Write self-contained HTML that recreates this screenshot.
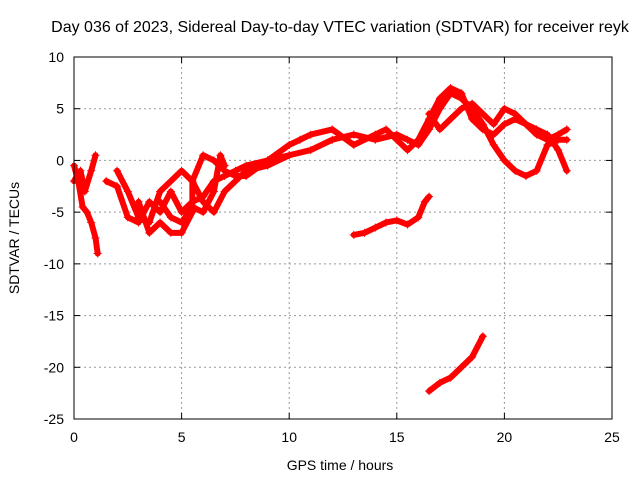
<!DOCTYPE html>
<html><head><meta charset="utf-8"><style>
body{margin:0;background:#fff;}
svg{display:block;font-family:"Liberation Sans",sans-serif;}
</style></head><body>
<svg id="chart" width="640" height="480">
<text x="340" y="32" font-size="16" text-anchor="middle">Day 036 of 2023, Sidereal Day-to-day VTEC variation (SDTVAR) for receiver reyk</text>
<text x="340" y="470" font-size="14" text-anchor="middle">GPS time / hours</text>
<text x="19" y="238" font-size="14" text-anchor="middle" transform="rotate(-90 19 238)">SDTVAR / TECUs</text>
<g id="grid"></g><g id="ticks"></g><g id="marks"></g>
<rect x="74" y="57" width="538" height="362" fill="none" stroke="#000" stroke-width="1"/>
</svg>
<script>
const xTicks=[0,5,10,15,20,25];
const yTicks=[10,5,0,-5,-10,-15,-20,-25];
const trackA=[[0,-0.5],[0.2,-2],[0.4,-4.5],[0.6,-5],[0.8,-6],[1.0,-7.5],[1.1,-9]];
const trackB=[[0,-2],[0.3,-1],[0.5,-3],[0.8,-1],[1,0.5]];
const trackC=[[1.5,-2],[2,-2.5],[2.5,-5.5],[3,-6],[3.5,-4],[4,-5],[4.5,-3],[5,-5],[5.5,-4],[6,-3.5],[6.5,-2],[7,-1.5],[7.5,-1],[8,-0.5],[9,0],[10,0.5]];
const trackD=[[2,-1],[2.5,-3],[3,-5.5],[3.5,-6],[4,-3],[4.5,-2],[5,-1],[5.5,-2],[6,-4],[6.5,-5],[7,-3],[7.5,-2],[8,-1],[9,-0.5],[10,0.5],[11,1],[12,2],[13,2.5],[14,2],[15,2.5],[15.5,2],[16,1.5],[16.5,3],[17,5],[17.5,6.5],[18,6],[18.5,5],[19,3.5],[19.5,1.5],[20,0],[20.5,-1],[21,-1.5],[21.5,-1],[22,1.5],[22.5,2],[22.9,2]];
const trackE=[[3,-4],[3.5,-7],[4,-6],[4.5,-7],[5,-7],[5.5,-5],[5.5,-2],[6,0.5],[6.5,0],[7,-1],[7.5,-1.5],[8,-1.5],[9,0],[10,1.5],[10.5,2],[11,2.5],[12,3],[13,1.5],[14,2.5],[14.5,3],[15,2],[15.5,1],[16,2],[16.5,4],[17,6],[17.5,7],[18,6.5],[18.5,4],[19,3],[19.5,2.5],[20,3.5],[20.5,4],[21,3.5],[21.5,3],[22,2.5],[22.5,1],[22.9,-1]];
const trackF=[[16.5,4.5],[17,3],[17.5,4],[18,5],[18.5,5.5],[19,4.5],[19.5,3.5],[20,5],[20.5,4.5],[21,3.5],[21.5,2.5],[22,2],[22.5,2.5],[22.9,3]];
const trackG=[[13,-7.2],[13.5,-7],[14,-6.5],[14.5,-6],[15,-5.8],[15.5,-6.2],[16,-5.5],[16.3,-4],[16.5,-3.5]];
const trackH=[[16.5,-22.3],[17,-21.5],[17.5,-21],[18,-20],[18.5,-19],[19,-17]];
const trackI=[[4,-4],[4.5,-5.5],[5,-6],[5.5,-4.5],[6,-5],[6.5,-3],[6.8,0.5],[7,-0.5]];
const tracks=[trackA,trackB,trackC,trackD,trackE,trackF,trackG,trackH,trackI];
const NS="http://www.w3.org/2000/svg";
const X0=74,X1=612,Y0=57,Y1=419;
const sx=v=>X0+(v-0)/25*(X1-X0);
const sy=v=>Y0+(10-v)/35*(Y1-Y0);
function mk(t,a,p){const e=document.createElementNS(NS,t);for(const k in a)e.setAttribute(k,a[k]);p.appendChild(e);return e;}
const grid=document.getElementById('grid'),ticks=document.getElementById('ticks'),marks=document.getElementById('marks');
xTicks.forEach(v=>{const x=sx(v);
 if(v>0&&v<25){const g=mk('line',{x1:x,x2:x,y1:Y0,y2:Y1,stroke:'#999','stroke-dasharray':'2,3','stroke-width':1},grid);
 
 }
 mk('line',{x1:x,x2:x,y1:Y1,y2:Y1-6,stroke:'#000'},ticks);
 mk('line',{x1:x,x2:x,y1:Y0,y2:Y0+6,stroke:'#000'},ticks);
 const t=mk('text',{x:x,y:Y1+23,'font-size':14,'text-anchor':'middle'},ticks);t.textContent=v;
 
 });
yTicks.forEach(v=>{const y=sy(v);
 if(v<10&&v>-25){const g=mk('line',{x1:X0,x2:X1,y1:y,y2:y,stroke:'#999','stroke-dasharray':'2,3','stroke-width':1},grid);
 
 }
 mk('line',{x1:X0,x2:X0+6,y1:y,y2:y,stroke:'#000'},ticks);
 mk('line',{x1:X1,x2:X1-6,y1:y,y2:y,stroke:'#000'},ticks);
 const t=mk('text',{x:X0-10,y:y+5,'font-size':14,'text-anchor':'end'},ticks);t.textContent=v;
 
 });
tracks.forEach((tr,i)=>{
 const pl=mk('polyline',{points:tr.map(p=>sx(p[0])+','+sy(p[1])).join(' '),fill:'none',stroke:'#f00','stroke-width':6,'stroke-linejoin':'round','stroke-linecap':'round'},marks);
 
 
 tr.forEach(p=>{const x=sx(p[0]),y=sy(p[1]);
  const m=mk('path',{d:`M${x-4},${y}H${x+4}M${x},${y-4}V${y+4}`,stroke:'#f00','stroke-width':1},marks);
  
  });
});
</script>
</body></html>
